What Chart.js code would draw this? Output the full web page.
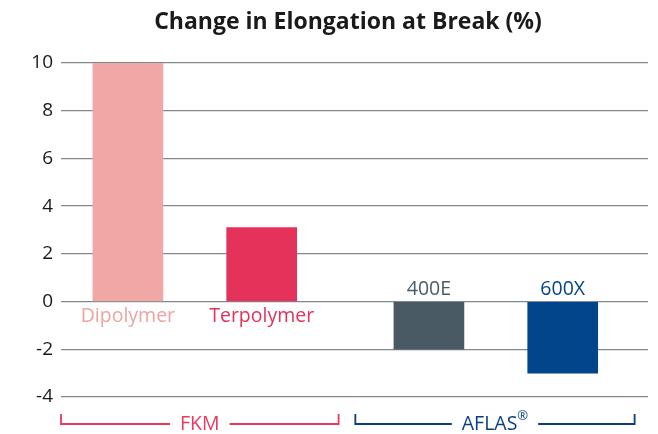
<!DOCTYPE html>
<html>
<head>
<meta charset="utf-8">
<script src="https://cdn.jsdelivr.net/npm/chart.js@4/dist/chart.umd.min.js"></script>
<style>
    html, body { margin: 0; padding: 0; background: #ffffff; }
    #wrap { width: 658px; height: 434px; position: relative; }
</style>
</head>
<body>
<div id="wrap"><canvas id="chartElong"></canvas></div>
<script>
// Datos
const categorias = ['Dipolymer', 'Terpolymer', '400E', '600X'];
const valores = [10, 3.1, -2, -3];
const posiciones = [2, 6, 11, 15];
const coloresBarra = ['#f2a7a7', '#e5325a', '#4a5a64', '#03458a'];
const coloresEtiqueta = ['#eea3a3', '#e5325a', '#4a5a64', '#03458a'];
const grupos = ['FKM', 'AFLAS'];
const rangosGrupo = [[0, 8.3], [8.8, 17.15]];
const coloresGrupo = ['#e8395e', '#0a3f7f'];
const titulo = 'Change in Elongation at Break (%)';

const FUENTE = '"Open Sans", "Noto Sans", sans-serif';

// Etiquetas, llaves y título
const decoraciones = {
    id: 'decoraciones',
    afterDraw(chart) {
        const ctx = chart.ctx;
        const x = chart.scales.x;
        const y = chart.scales.y;
        const y0 = y.getPixelForValue(0);

        ctx.save();
        ctx.textAlign = 'center';
        ctx.textBaseline = 'middle';

        // Título
        ctx.fillStyle = '#1a1a1a';
        ctx.font = 'bold 23px ' + FUENTE;
        ctx.fillText(titulo, 348, 22);

        // Nombres de barras
        ctx.font = '19.5px ' + FUENTE;
        categorias.forEach((cat, i) => {
            const px = x.getPixelForValue(posiciones[i]);
            ctx.fillStyle = coloresEtiqueta[i];
            const py = valores[i] >= 0 ? y0 + 15 : y0 - 12;
            ctx.fillText(cat, px, py);
        });

        // Llaves de grupo
        const yLinea = 424;
        grupos.forEach((g, i) => {
            const xs = x.getPixelForValue(rangosGrupo[i][0]);
            const xe = x.getPixelForValue(rangosGrupo[i][1]);
            const xc = (xs + xe) / 2;
            ctx.font = '19.5px ' + FUENTE;
            let ancho = ctx.measureText(g).width;
            let anchoSup = 0;
            if (g === 'AFLAS') {
                ctx.font = '13px ' + FUENTE;
                anchoSup = ctx.measureText('®').width;
            }
            const total = ancho + anchoSup;
            const t0 = xc - total / 2;

            ctx.strokeStyle = coloresGrupo[i];
            ctx.lineWidth = 1.8;
            ctx.beginPath();
            ctx.moveTo(xs, yLinea - 10);
            ctx.lineTo(xs, yLinea);
            ctx.lineTo(t0 - 10, yLinea);
            ctx.moveTo(t0 + total + 10, yLinea);
            ctx.lineTo(xe, yLinea);
            ctx.lineTo(xe, yLinea - 10);
            ctx.stroke();

            ctx.fillStyle = coloresGrupo[i];
            ctx.textAlign = 'left';
            ctx.font = '19.5px ' + FUENTE;
            ctx.fillText(g, t0, yLinea);
            if (anchoSup) {
                ctx.font = '13px ' + FUENTE;
                ctx.fillText('®', t0 + ancho, yLinea - 8);
            }
            ctx.textAlign = 'center';
        });

        ctx.restore();
    }
};

function renderChart() {
    const ctx = document.getElementById('chartElong').getContext('2d');

    new Chart(ctx, {
        type: 'bar',
        data: {
            datasets: [{
                data: posiciones.map((p, i) => ({ x: p, y: valores[i] })),
                backgroundColor: coloresBarra,
                barThickness: 70,
                borderWidth: 0
            }]
        },
        options: {
            responsive: true,
            maintainAspectRatio: false,
            animation: false,
            layout: {
                padding: { top: 63, right: 10, bottom: 37, left: 0 }
            },
            plugins: {
                legend: { display: false },
                tooltip: { enabled: false }
            },
            scales: {
                x: {
                    type: 'linear',
                    min: 0,
                    max: 17.55,
                    offset: false,
                    display: false
                },
                y: {
                    min: -4,
                    max: 10,
                    border: { display: false },
                    grid: {
                        color: '#7f898f',
                        lineWidth: 1.3,
                        drawTicks: false
                    },
                    ticks: {
                        stepSize: 2,
                        padding: 8,
                        color: '#1a1a1a',
                        font: { size: 19, family: FUENTE }
                    },
                    afterFit(scale) {
                        scale.width = 61;
                    }
                }
            }
        },
        plugins: [decoraciones]
    });
}

renderChart();
</script>
</body>
</html>
